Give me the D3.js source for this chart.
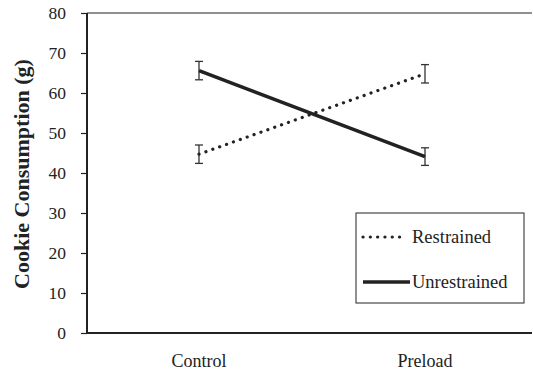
<!DOCTYPE html>
<html>
<head>
<meta charset="utf-8">
<script src="https://cdn.jsdelivr.net/npm/d3@7"></script>
<style>
  body { margin: 0; background: #fff; }
  text { font-family: "Liberation Serif", "Times New Roman", serif; fill: #222; }
</style>
</head>
<body>
<div id="chart"></div>
<script>
// Data
var conditions = ["Control", "Preload"];
var restrained = [44.7, 64.8];
var restrainedErr = [2.3, 2.3];
var unrestrained = [65.6, 44.1];
var unrestrainedErr = [2.3, 2.2];
var yTicks = [0, 10, 20, 30, 40, 50, 60, 70, 80];

var W = 533, H = 372;
var margin = {top: 13, right: 1, bottom: 39, left: 87},
    width = W - margin.left - margin.right,
    height = H - margin.top - margin.bottom;

var svg = d3.select("#chart").append("svg")
    .attr("width", W).attr("height", H);

var g = svg.append("g")
    .attr("transform", `translate(${margin.left},${margin.top})`);

var x = d3.scalePoint()
    .domain(conditions)
    .range([112, 338]);

var y = d3.scaleLinear()
    .domain([0, 80])
    .range([height, 0]);

// y axis
var yAxis = g.append("g")
    .call(d3.axisLeft(y).tickValues(yTicks).tickSize(6).tickPadding(15).tickFormat(d3.format("d")));
yAxis.select(".domain").remove();
yAxis.selectAll(".tick line").attr("stroke", "#222").attr("stroke-width", 1.2);
yAxis.selectAll(".tick text").style("font-size", "17.5px").attr("fill", "#222")
    .style("font-family", "Liberation Serif");

g.append("line").attr("x1", 0).attr("x2", 0).attr("y1", 0).attr("y2", height)
    .attr("stroke", "#222").attr("stroke-width", 2);
g.append("line").attr("x1", 0).attr("x2", width).attr("y1", 0).attr("y2", 0)
    .attr("stroke", "#222").attr("stroke-width", 1.2);
g.append("line").attr("x1", 0).attr("x2", width).attr("y1", height).attr("y2", height)
    .attr("stroke", "#222").attr("stroke-width", 2);

// x labels
g.selectAll(".xlab").data(conditions).enter().append("text")
    .attr("x", d => x(d)).attr("y", height + 34)
    .attr("text-anchor", "middle").style("font-size", "18px")
    .text(d => d);

// y label
svg.append("text")
    .attr("transform", `translate(29,174) rotate(-90)`)
    .attr("text-anchor", "middle").style("font-size", "22px").style("font-weight", "bold")
    .text("Cookie Consumption (g)");

var series = [
  {name: "Restrained", values: restrained, err: restrainedErr, dash: "0.1,7.2", width: 3.2, cap: "round", lx2: 406},
  {name: "Unrestrained", values: unrestrained, err: unrestrainedErr, dash: null, width: 3.5, cap: "butt", lx2: 410}
];

var line = d3.line().x((d, i) => x(conditions[i])).y(d => y(d));

series.forEach(function(s) {
  // error bars
  var eb = g.append("g");
  s.values.forEach(function(v, i) {
    var cx = x(conditions[i]);
    eb.append("line").attr("x1", cx).attr("x2", cx)
      .attr("y1", y(v - s.err[i])).attr("y2", y(v + s.err[i]))
      .attr("stroke", "#333").attr("stroke-width", 1.3);
    [v - s.err[i], v + s.err[i]].forEach(function(e) {
      eb.append("line").attr("x1", cx - 4).attr("x2", cx + 4)
        .attr("y1", y(e)).attr("y2", y(e))
        .attr("stroke", "#333").attr("stroke-width", 1.3);
    });
  });
  g.append("path").datum(s.values)
    .attr("d", line)
    .attr("fill", "none").attr("stroke", "#222")
    .attr("stroke-width", s.width)
    .attr("stroke-linecap", s.cap)
    .attr("stroke-dasharray", s.dash);
});

// legend
var lg = svg.append("g").attr("transform", "translate(356,213)");
lg.append("rect").attr("width", 168).attr("height", 90)
  .attr("fill", "#fff").attr("stroke", "#222").attr("stroke-width", 1);
series.forEach(function(s, i) {
  var ly = 24 + i * 45;
  lg.append("line").attr("x1", 7).attr("x2", s.lx2 - 356).attr("y1", ly).attr("y2", ly)
    .attr("stroke", "#222").attr("stroke-width", s.width)
    .attr("stroke-linecap", s.cap).attr("stroke-dasharray", s.dash);
  lg.append("text").attr("x", 56).attr("y", ly + 6)
    .style("font-size", "18.5px").text(s.name);
});
</script>
</body>
</html>
